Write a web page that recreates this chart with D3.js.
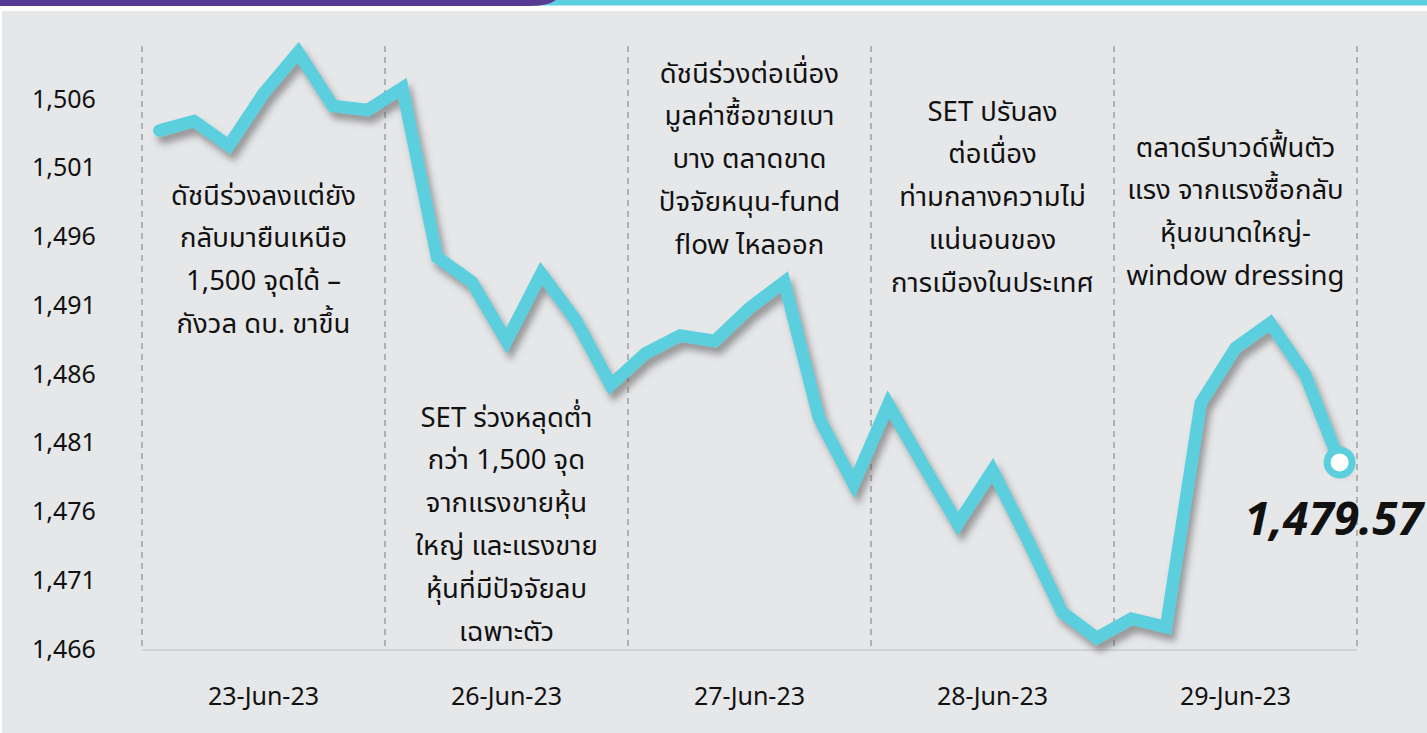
<!DOCTYPE html>
<html>
<head>
<meta charset="utf-8">
<script src="https://cdn.jsdelivr.net/npm/d3@7/dist/d3.min.js"></script>
<style>
  html, body { margin: 0; padding: 0; background: #ffffff; }
  svg { display: block; }
  text { font-family: "Noto Sans Thai", "Noto Sans", "DejaVu Sans", sans-serif; fill: #111; }
</style>
</head>
<body>
<svg id="chart" width="1427" height="733"></svg>
<script>
// ---------------- DATA ----------------
const days = ["23-Jun-23", "26-Jun-23", "27-Jun-23", "28-Jun-23", "29-Jun-23"];
const pointsPerDay = 7;
const setIndex = [
  1503.7, 1504.4, 1502.6, 1506.4, 1509.4, 1505.5, 1505.2,   // 23-Jun
  1506.8, 1494.5, 1492.7, 1488.4, 1493.3, 1489.9, 1485.2,   // 26-Jun
  1487.5, 1488.8, 1488.4, 1490.8, 1492.7, 1482.8, 1478.0,   // 27-Jun
  1483.8, 1479.4, 1475.1, 1479.0, 1474.0, 1468.7, 1466.8,   // 28-Jun
  1468.2, 1467.6, 1483.9, 1487.9, 1489.7, 1486.0, 1479.57   // 29-Jun
];
const yTicks = [1466, 1471, 1476, 1481, 1486, 1491, 1496, 1501, 1506];
const yDomain = [1466, 1510];
const lastLabel = "1,479.57";
const notes = [
  ["ดัชนีร่วงลงแต่ยัง", "กลับมายืนเหนือ", "1,500 จุดได้ –", "กังวล ดบ. ขาขึ้น"],
  ["SET ร่วงหลุดต่ำ", "กว่า 1,500 จุด", "จากแรงขายหุ้น", "ใหญ่ และแรงขาย", "หุ้นที่มีปัจจัยลบ", "เฉพาะตัว"],
  ["ดัชนีร่วงต่อเนื่อง", "มูลค่าซื้อขายเบา", "บาง ตลาดขาด", "ปัจจัยหนุน-fund", "flow ไหลออก"],
  ["SET ปรับลง", "ต่อเนื่อง", "ท่ามกลางความไม่", "แน่นอนของ", "การเมืองในประเทศ"],
  ["ตลาดรีบาวด์ฟื้นตัว", "แรง จากแรงซื้อกลับ", "หุ้นขนาดใหญ่-", "window dressing"]
];

// ---------------- LAYOUT ----------------
const W = 1427, H = 733;
const plot = { left: 142, right: 1357, top: 44, bottom: 649 };
const noteFirstLineY = [196, 418, 74, 112, 148];
const noteLineGap = 42.8;

const svg = d3.select("#chart");

// background + top decoration
svg.append("rect").attr("x", 0).attr("y", 0).attr("width", W).attr("height", H).attr("fill", "#ffffff");
svg.append("rect").attr("x", 2).attr("y", 11).attr("width", W - 2).attr("height", H - 11).attr("fill", "#e6e7e9");
svg.append("rect").attr("x", 540).attr("y", 0).attr("width", W - 540).attr("height", 5.5).attr("fill", "#5ccfdf");
svg.append("path")
  .attr("d", "M0,0 L556,0 Q548,6 530,6 L0,6 Z")
  .attr("fill", "#573a93");

// scales
const x = d3.scaleLinear().domain([0, days.length * pointsPerDay]).range([plot.left, plot.right]);
const y = d3.scaleLinear().domain(yDomain).range([plot.bottom, plot.top]);
const dayCenter = i => x((i + 0.5) * pointsPerDay);

// defs: drop shadow
const defs = svg.append("defs");
const f = defs.append("filter").attr("id", "shadow").attr("x", "-10%").attr("y", "-10%").attr("width", "120%").attr("height", "130%");
f.append("feDropShadow").attr("dx", 4).attr("dy", 7).attr("stdDeviation", 3.5)
  .attr("flood-color", "#555").attr("flood-opacity", 0.55);

// dashed day separators
const seps = d3.range(days.length + 1);
svg.append("g").selectAll("line").data(seps).join("line")
  .attr("x1", d => x(d * pointsPerDay)).attr("x2", d => x(d * pointsPerDay))
  .attr("y1", y(yDomain[1]) + 2).attr("y2", y(yDomain[0]))
  .attr("stroke", "#a3a3a3").attr("stroke-width", 1.6).attr("stroke-dasharray", "6,5");

// baseline
svg.append("line")
  .attr("x1", x(0)).attr("x2", x(days.length * pointsPerDay))
  .attr("y1", y(yDomain[0]) + 1).attr("y2", y(yDomain[0]) + 1)
  .attr("stroke", "#d2d3d5").attr("stroke-width", 2);

// y axis
const yAxis = d3.axisLeft(y).tickValues(yTicks).tickSize(0).tickFormat(d3.format(","));
const gy = svg.append("g").attr("transform", "translate(32,0)").call(yAxis);
gy.select(".domain").remove();
gy.selectAll("text").attr("x", 0).attr("text-anchor", "start")
  .style("font-size", "25px").style("fill", "#111")
  .style("font-family", "\"Noto Sans\", \"DejaVu Sans\", sans-serif");

// x labels
svg.append("g").selectAll("text").data(days).join("text")
  .attr("x", (d, i) => dayCenter(i)).attr("y", 697)
  .attr("text-anchor", "middle").attr("dominant-baseline", "central")
  .style("font-size", "25px").text(d => d);

// annotations
notes.forEach((lines, i) => {
  const g = svg.append("g");
  g.selectAll("text").data(lines).join("text")
    .attr("x", dayCenter(i))
    .attr("y", (d, j) => noteFirstLineY[i] + j * noteLineGap)
    .attr("text-anchor", "middle").attr("dominant-baseline", "central")
    .style("font-size", "27.5px").text(d => d);
});

// line
const line = d3.line().x((d, i) => x(i + 0.5)).y(d => y(d));
svg.append("path").datum(setIndex)
  .attr("d", line)
  .attr("fill", "none").attr("stroke", "#5ccfdf").attr("stroke-width", 12.5)
  .attr("stroke-linejoin", "miter").attr("stroke-linecap", "round")
  .attr("filter", "url(#shadow)");

// end marker
const lastI = setIndex.length - 1;
svg.append("circle")
  .attr("cx", x(lastI + 0.5)).attr("cy", y(setIndex[lastI])).attr("r", 12.5)
  .attr("fill", "#ffffff").attr("stroke", "#5ccfdf").attr("stroke-width", 7);

svg.append("text")
  .attr("x", 1423).attr("y", y(setIndex[lastI]) + 73)
  .attr("text-anchor", "end")
  .style("font-size", "46px").style("font-weight", "bold").style("font-style", "italic")
  .style("font-family", "\"Noto Sans\", \"DejaVu Sans\", sans-serif")
  .text(lastLabel);
</script>
</body>
</html>
